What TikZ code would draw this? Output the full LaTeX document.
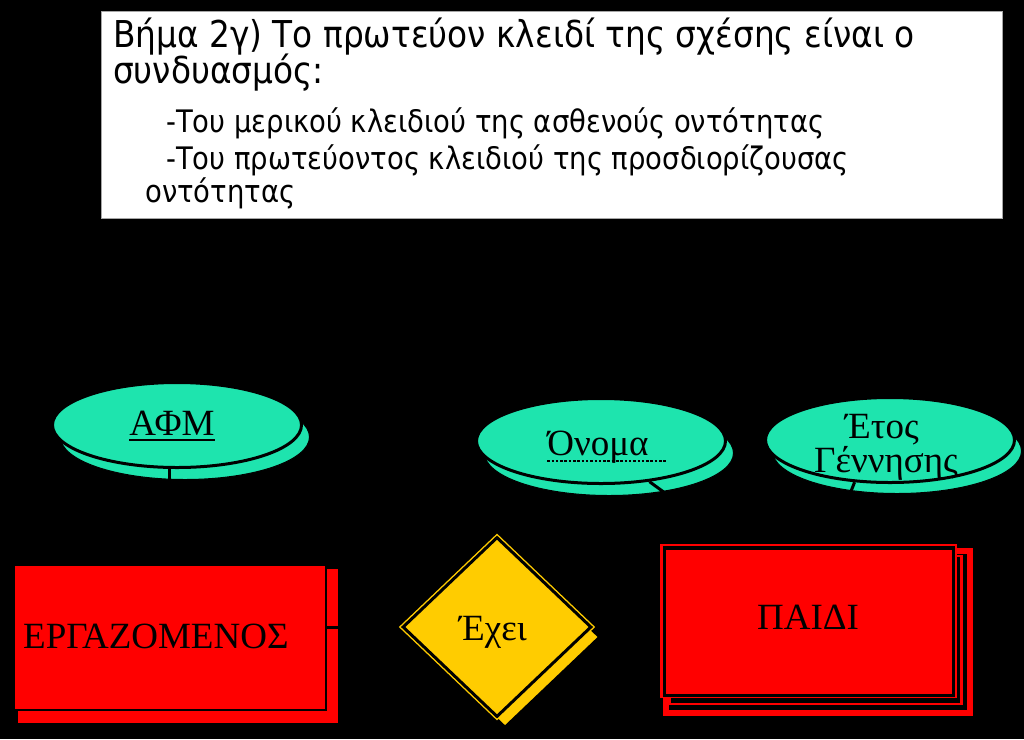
\documentclass[tikz,border=0pt]{standalone}
\usepackage{fontspec}
\setmainfont{Liberation Serif}
\newfontfamily\titlefont[FakeStretch=0.886]{DejaVu Sans}
\usetikzlibrary{shapes.geometric}
\definecolor{attrc}{RGB}{30,228,174}
\definecolor{entc}{RGB}{255,0,0}
\definecolor{relc}{RGB}{255,204,0}
\pgfdeclarelayer{bgl}
\pgfdeclarelayer{back}
\pgfsetlayers{bgl,back,main}
\begin{document}
\begin{tikzpicture}[x=1pt,y=-1pt,
  attr/.style={ellipse, fill=attrc, draw=black, line width=3pt, minimum width=249pt, minimum height=85pt, inner sep=0pt},
  attrshadow/.style={ellipse, fill=attrc, draw=black, line width=1pt, minimum width=249pt, minimum height=85pt, inner sep=0pt},
  lbl/.style={font=\fontsize{37}{40}\selectfont, anchor=base, inner sep=0pt},
  tline/.style={anchor=base west, inner sep=0pt},
  conn/.style={draw=black, line width=3pt},
  relshape/.style={diamond, fill=relc, minimum width=189pt, minimum height=180pt, inner sep=0pt}
]
\useasboundingbox (0,0) rectangle (1024,739);
\begin{pgfonlayer}{bgl}
\fill[black] (0,0) rectangle (1024,739);
\end{pgfonlayer}

% title box
\node[fill=white, draw=gray!70, line width=0.8pt, inner sep=0pt, minimum width=901pt, minimum height=207pt, anchor=north west] (titlebox) at (101,11) {};
\node[tline, font=\titlefont\fontsize{37}{42}\selectfont] (t1) at (113,47) {Βήμα 2γ) Το πρωτεύον κλειδί της σχέσης είναι ο};
\node[tline, font=\titlefont\fontsize{37}{42}\selectfont] (t2) at (113,83) {συνδυασμός:};
\node[tline, font=\titlefont\fontsize{31}{36}\selectfont] (t3) at (166,132) {-Του μερικού κλειδιού της ασθενούς οντότητας};
\node[tline, font=\titlefont\fontsize{31}{36}\selectfont] (t4) at (166,169) {-Του πρωτεύοντος κλειδιού της προσδιορίζουσας};
\node[tline, font=\titlefont\fontsize{31}{36}\selectfont] (t5) at (145,202) {οντότητας};

% shadows
\begin{pgfonlayer}{back}
\node[attrshadow] (afms) at (185,437) {};
\node[attrshadow] (onomas) at (609,453) {};
\node[attrshadow] (etoss) at (897,451) {};
\fill[entc] (18,569) rectangle (338,723);
\node[relshape, draw=black, line width=2pt] (exeis) at (505,637) {};
\draw[entc, line width=6pt] (666,551) rectangle (970,713);
\draw[entc, line width=2.5pt] (670,556) rectangle (961.5,704);
\end{pgfonlayer}

% main shapes
\node[attr] (afm) at (177,425) {};
\node[attr] (onoma) at (601,441) {};
\node[attr] (etos) at (890,440) {};
\node[fill=entc, draw=black, line width=2pt, minimum width=312pt, minimum height=145pt, anchor=north west, inner sep=0pt] (erg) at (13,564) {};
\node[relshape, draw=relc, line width=7pt] (exeio) at (497,627) {};
\node[relshape, draw=black, line width=3pt] (exei) at (497,627) {};
\node[fill=entc, inner sep=0pt, minimum width=297pt, minimum height=154pt, anchor=north west] (paidi) at (660,544) {};
\draw[black, line width=3.5pt] (664.5,548) rectangle (953.5,695.5);

% labels
\node[lbl] (afmt) at (172,435) {ΑΦΜ};
\draw[line width=2pt] ([yshift=-5pt]afmt.base west) -- ([yshift=-5pt]afmt.base east);
\node[lbl] (onomat) at (598,455) {Όνομα};
\draw[line width=2.5pt, dash pattern=on 2.5pt off 1.8pt] ([yshift=-6pt]onomat.base west) -- ([xshift=18pt,yshift=-6pt]onomat.base east);
\node[lbl] (etost) at (882,438) {Έτος};
\node[lbl] (gennt) at (886,472) {Γέννησης};
\node[lbl, anchor=base west] (ergt) at (23,648) {ΕΡΓΑΖΟΜΕΝΟΣ};
\node[lbl] (exeit) at (493,640) {Έχει};
\node[lbl] (paidit) at (808,629) {ΠΑΙΔΙ};

% connectors (black, behind main shapes)
\begin{pgfonlayer}{back}
\draw[conn] (afm.260) -- (afm.260 |- erg.north);
\draw[conn] (exei.west -| erg.east) -- (exei.west);
\draw[conn] (exei.east) -- (exei.east -| paidi.west);
\draw[conn] (onoma.320) -- ([xshift=75pt]paidi.north west);
\draw[conn] (etos.230) -- ([xshift=170pt]paidi.north west);
\end{pgfonlayer}
\end{tikzpicture}
\end{document}
